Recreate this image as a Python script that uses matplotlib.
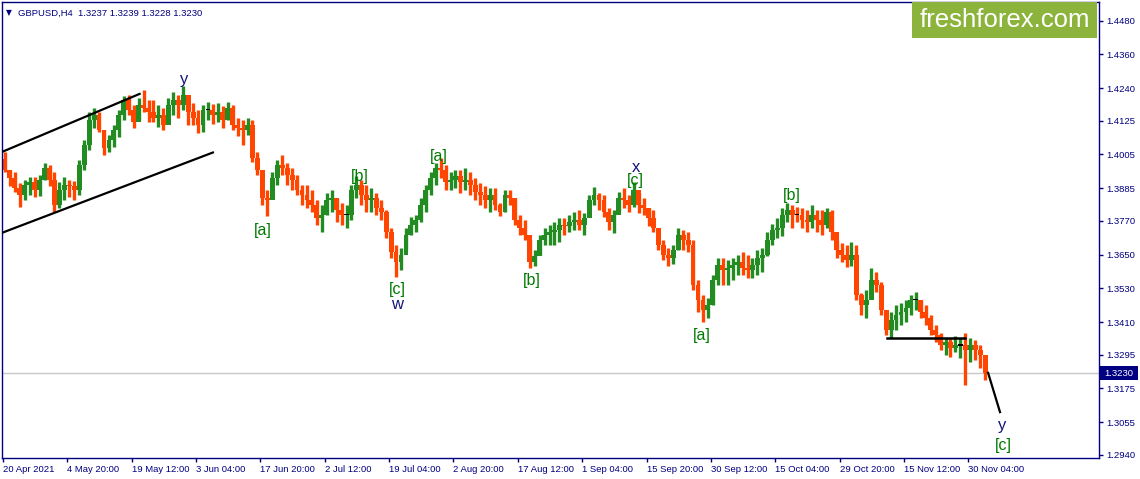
import matplotlib
matplotlib.use("Agg")
import matplotlib.pyplot as plt
from matplotlib.patches import Rectangle

# ---------------- data (GBPUSD H4, grouped 5 bars per candle) ----------------
header_text = "GBPUSD,H4  1.3237 1.3239 1.3228 1.3230"
bars_per_group = 5
first_open = 1.3990

highs = [
    1.4014, 1.3951, 1.3943, 1.3904, 1.3915, 1.3926, 1.3926, 1.3933, 1.3975, 1.3968,
    1.3943, 1.3908, 1.3926, 1.3915, 1.3912, 1.3986, 1.4057, 1.4156, 1.4171, 1.4156,
    1.4093, 1.4075, 1.4110, 1.4164, 1.4213, 1.4217, 1.4181, 1.4206, 1.4234, 1.4199,
    1.4199, 1.4181, 1.4171, 1.4206, 1.4227, 1.4217, 1.4249, 1.4199, 1.4188, 1.4164,
    1.4181, 1.4192, 1.4185, 1.4188, 1.4178, 1.4192, 1.4181, 1.4135, 1.4128, 1.4135,
    1.4128, 1.4014, 1.3943, 1.3880, 1.3943, 1.3986, 1.4004, 1.3975, 1.3958, 1.3933,
    1.3897, 1.3897, 1.3880, 1.3844, 1.3826, 1.3869, 1.3880, 1.3851, 1.3833, 1.3826,
    1.3897, 1.3929, 1.3915, 1.3897, 1.3887, 1.3869, 1.3844, 1.3809, 1.3745, 1.3684,
    1.3674, 1.3745, 1.3784, 1.3791, 1.3851, 1.3897, 1.3943, 1.3975, 1.3993, 1.3968,
    1.3943, 1.3951, 1.3951, 1.3958, 1.3943, 1.3922, 1.3904, 1.3894, 1.3887, 1.3887,
    1.3833, 1.3880, 1.3880, 1.3851, 1.3791, 1.3773, 1.3702, 1.3667, 1.3720, 1.3745,
    1.3755, 1.3766, 1.3780, 1.3780, 1.3791, 1.3801, 1.3809, 1.3798, 1.3862, 1.3890,
    1.3869, 1.3862, 1.3816, 1.3809, 1.3872, 1.3887, 1.3862, 1.3908, 1.3869, 1.3851,
    1.3816, 1.3809, 1.3745, 1.3702, 1.3674, 1.3684, 1.3745, 1.3738, 1.3730, 1.3702,
    1.3560, 1.3507, 1.3496, 1.3578, 1.3638, 1.3638, 1.3631, 1.3638, 1.3649, 1.3659,
    1.3649, 1.3638, 1.3667, 1.3674, 1.3730, 1.3759, 1.3780, 1.3816, 1.3833, 1.3826,
    1.3819, 1.3816, 1.3809, 1.3826, 1.3809, 1.3809, 1.3816, 1.3809, 1.3702, 1.3691,
    1.3684, 1.3695, 1.3684, 1.3514, 1.3525, 1.3603, 1.3588, 1.3553, 1.3436, 1.3446,
    1.3471, 1.3478, 1.3489, 1.3507, 1.3517, 1.3489, 1.3471, 1.3436, 1.3400, 1.3372,
    1.3354, 1.3354, 1.3361, 1.3354, 1.3372, 1.3354, 1.3347, 1.3329, 1.3276,
]
lows = [
    1.3943, 1.3894, 1.3872, 1.3819, 1.3844, 1.3862, 1.3855, 1.3858, 1.3915, 1.3894,
    1.3801, 1.3816, 1.3844, 1.3855, 1.3844, 1.3862, 1.3951, 1.4022, 1.4100, 1.4085,
    1.4004, 1.4014, 1.4032, 1.4068, 1.4128, 1.4146, 1.4100, 1.4128, 1.4156, 1.4121,
    1.4121, 1.4103, 1.4093, 1.4128, 1.4146, 1.4135, 1.4164, 1.4110, 1.4110, 1.4082,
    1.4085, 1.4128, 1.4114, 1.4121, 1.4100, 1.4128, 1.4093, 1.4071, 1.4039, 1.4075,
    1.3979, 1.3933, 1.3826, 1.3787, 1.3851, 1.3897, 1.3933, 1.3897, 1.3880, 1.3862,
    1.3826, 1.3816, 1.3801, 1.3755, 1.3730, 1.3791, 1.3801, 1.3766, 1.3755, 1.3745,
    1.3773, 1.3851, 1.3826, 1.3801, 1.3801, 1.3791, 1.3773, 1.3709, 1.3638, 1.3571,
    1.3596, 1.3667, 1.3720, 1.3730, 1.3766, 1.3801, 1.3862, 1.3897, 1.3922, 1.3880,
    1.3880, 1.3887, 1.3869, 1.3880, 1.3862, 1.3844, 1.3826, 1.3816, 1.3801, 1.3809,
    1.3787, 1.3801, 1.3826, 1.3755, 1.3720, 1.3702, 1.3603, 1.3610, 1.3649, 1.3684,
    1.3684, 1.3684, 1.3695, 1.3720, 1.3730, 1.3738, 1.3738, 1.3720, 1.3791, 1.3826,
    1.3809, 1.3784, 1.3738, 1.3727, 1.3801, 1.3816, 1.3801, 1.3819, 1.3798, 1.3791,
    1.3752, 1.3730, 1.3667, 1.3631, 1.3610, 1.3617, 1.3667, 1.3667, 1.3659, 1.3525,
    1.3446, 1.3411, 1.3425, 1.3471, 1.3542, 1.3542, 1.3542, 1.3560, 1.3578, 1.3578,
    1.3567, 1.3567, 1.3578, 1.3588, 1.3645, 1.3684, 1.3709, 1.3716, 1.3766, 1.3745,
    1.3766, 1.3745, 1.3730, 1.3745, 1.3730, 1.3720, 1.3745, 1.3702, 1.3638, 1.3624,
    1.3606, 1.3610, 1.3489, 1.3436, 1.3425, 1.3525, 1.3517, 1.3436, 1.3365, 1.3354,
    1.3383, 1.3400, 1.3411, 1.3436, 1.3454, 1.3425, 1.3400, 1.3365, 1.3340, 1.3312,
    1.3294, 1.3287, 1.3305, 1.3283, 1.3187, 1.3269, 1.3276, 1.3248, 1.3205,
]
closes = [
    1.3951, 1.3922, 1.3887, 1.3862, 1.3897, 1.3908, 1.3880, 1.3915, 1.3958, 1.3915,
    1.3826, 1.3880, 1.3897, 1.3894, 1.3880, 1.3968, 1.4039, 1.4128, 1.4146, 1.4093,
    1.4029, 1.4057, 1.4093, 1.4146, 1.4199, 1.4164, 1.4121, 1.4181, 1.4171, 1.4156,
    1.4135, 1.4146, 1.4110, 1.4181, 1.4199, 1.4181, 1.4217, 1.4156, 1.4135, 1.4110,
    1.4164, 1.4164, 1.4146, 1.4156, 1.4128, 1.4171, 1.4110, 1.4100, 1.4093, 1.4110,
    1.3993, 1.3951, 1.3851, 1.3844, 1.3922, 1.3968, 1.3958, 1.3933, 1.3915, 1.3880,
    1.3862, 1.3844, 1.3826, 1.3780, 1.3791, 1.3844, 1.3851, 1.3809, 1.3791, 1.3791,
    1.3880, 1.3897, 1.3862, 1.3844, 1.3851, 1.3816, 1.3801, 1.3730, 1.3659, 1.3624,
    1.3649, 1.3720, 1.3755, 1.3773, 1.3826, 1.3880, 1.3922, 1.3958, 1.3951, 1.3908,
    1.3915, 1.3929, 1.3908, 1.3915, 1.3897, 1.3872, 1.3862, 1.3844, 1.3862, 1.3826,
    1.3801, 1.3862, 1.3851, 1.3773, 1.3745, 1.3720, 1.3624, 1.3645, 1.3702, 1.3720,
    1.3730, 1.3738, 1.3755, 1.3752, 1.3766, 1.3773, 1.3755, 1.3780, 1.3844, 1.3862,
    1.3844, 1.3801, 1.3766, 1.3791, 1.3851, 1.3844, 1.3826, 1.3880, 1.3826, 1.3816,
    1.3780, 1.3745, 1.3684, 1.3649, 1.3638, 1.3667, 1.3720, 1.3702, 1.3684, 1.3542,
    1.3489, 1.3454, 1.3471, 1.3560, 1.3613, 1.3596, 1.3603, 1.3613, 1.3624, 1.3603,
    1.3596, 1.3613, 1.3638, 1.3649, 1.3702, 1.3738, 1.3745, 1.3791, 1.3809, 1.3791,
    1.3791, 1.3773, 1.3766, 1.3791, 1.3773, 1.3755, 1.3801, 1.3730, 1.3667, 1.3649,
    1.3631, 1.3649, 1.3507, 1.3471, 1.3489, 1.3560, 1.3542, 1.3454, 1.3383, 1.3418,
    1.3436, 1.3446, 1.3461, 1.3489, 1.3489, 1.3446, 1.3425, 1.3383, 1.3365, 1.3329,
    1.3340, 1.3319, 1.3329, 1.3329, 1.3312, 1.3329, 1.3312, 1.3294, 1.3230,
]

date_labels = ["20 Apr 2021", "4 May 20:00", "19 May 12:00", "3 Jun 04:00",
               "17 Jun 20:00", "2 Jul 12:00", "19 Jul 04:00", "2 Aug 20:00",
               "17 Aug 12:00", "1 Sep 04:00", "15 Sep 20:00", "30 Sep 12:00",
               "15 Oct 04:00", "29 Oct 20:00", "15 Nov 12:00", "30 Nov 04:00"]
bars_between_labels = 65
price_ticks = [1.4480, 1.4360, 1.4240, 1.4125, 1.4005, 1.3885, 1.3770,
               1.3650, 1.3530, 1.3410, 1.3295, 1.3175, 1.3055, 1.2940]
last_price = 1.3230

# Elliott wave labels: (text, bar index, price, kind)
wave_labels = [
    ("y", 183, 1.4270, "blue"),
    ("[a]", 262, 1.3734, "green"),
    ("[b]", 360, 1.3926, "green"),
    ("[c]", 398, 1.3527, "green"),
    ("w", 398, 1.3474, "blue"),
    ("[a]", 440, 1.3997, "green"),
    ("[b]", 534, 1.3557, "green"),
    ("x", 639, 1.3960, "blue"),
    ("[c]", 639, 1.3911, "green"),
    ("[a]", 706, 1.3361, "green"),
    ("[b]", 797, 1.3858, "green"),
    ("y", 1009, 1.3045, "blue"),
    ("[c]", 1010, 1.2971, "green"),
]
channel_upper_x, channel_upper_y = [-1, 138], [1.4014, 1.4220]
channel_lower_x, channel_lower_y = [-1, 212], [1.3727, 1.4012]
neck_x, neck_y = [893, 972], [1.3354, 1.3354]
proj_x, proj_y = [995, 1007], [1.3230, 1.3091]

# ---------------- styling ----------------
W, H, DPI = 1140, 479, 100
UP = "#228B22"
DOWN = "#FF4500"
NAVY = "#000080"
TXT_GREEN = "#007A00"
TXT_BLUE = "#141478"
FONT = "Liberation Sans"

plt.rcParams["font.family"] = [FONT, "DejaVu Sans"]

fig = plt.figure(figsize=(W / DPI, H / DPI), dpi=DPI)
ax = fig.add_axes([2 / W, (H - 458) / H, (1099 - 2) / W, (458 - 2) / H])
ax.set_xlim(-1, 1107)
ax.set_ylim(1.2928, 1.4546)

# current price line
ax.axhline(last_price, color="#C8C8C8", lw=1, zorder=1)

# candles
opens = [first_open] + closes[:-1]
n = len(closes)
xs = [g * bars_per_group + (bars_per_group - 1) / 2 for g in range(n)]
for x, o, h, l, c in zip(xs, opens, highs, lows, closes):
    if c > o:
        col = wick = UP
    elif c < o:
        col = wick = DOWN
    else:
        col = "black"
        wick = DOWN if c < (h + l) / 2 else UP
    ax.vlines(x, l, h, color=wick, lw=2.4, zorder=2)
    bot, top = min(o, c), max(o, c)
    if top - bot < 0.00015:
        bot, top = bot - 0.0002, top + 0.0002
    ax.add_patch(Rectangle((x - bars_per_group / 2 + 0.05, bot),
                           bars_per_group - 0.1, top - bot,
                           facecolor=col, edgecolor="none", zorder=2))

# lines
ax.plot(channel_upper_x, channel_upper_y, color="black", lw=1.6, zorder=3)
ax.plot(channel_lower_x, channel_lower_y, color="black", lw=1.6, zorder=3)
ax.plot(neck_x, neck_y, color="black", lw=1.8, zorder=3)
ax.plot(proj_x, proj_y, color="black", lw=1.6, zorder=3)

# wave labels
for txt, bx, py, kind in wave_labels:
    ax.text(bx, py, txt, ha="center", va="center",
            color=TXT_GREEN if kind == "green" else TXT_BLUE,
            fontsize=11.5 if kind == "green" else 12, zorder=4)

# axes styling
for s in ax.spines.values():
    s.set_color(NAVY)
    s.set_linewidth(1.0)
ax.yaxis.tick_right()
ax.set_yticks(price_ticks)
ax.set_yticklabels([f"{v:.4f}" for v in price_ticks])
ax.set_xticks([i * bars_between_labels for i in range(len(date_labels))])
ax.set_xticklabels(date_labels)
ax.tick_params(axis="both", colors=NAVY, labelcolor=NAVY, labelsize=6.8,
               length=3, width=1, direction="out")
ax.tick_params(axis="y", pad=2)
ax.tick_params(axis="x", pad=2)
for lab in ax.get_xticklabels():
    lab.set_horizontalalignment("left")

# price label on axis
fig.patches.append(Rectangle((1100 / W, (H - 380) / H), 38 / W, 14 / H,
                             transform=fig.transFigure, facecolor=NAVY,
                             edgecolor="none", zorder=5))
fig.text(1119 / W, (H - 373) / H, f"{last_price:.4f}", color="white",
         fontsize=6.8, ha="center", va="center", zorder=6)

# header
fig.text(6 / W, (H - 13) / H, "\u25BC", color=NAVY, fontsize=5.5,
         ha="left", va="center", family="DejaVu Sans")
fig.text(18 / W, (H - 13) / H, header_text, color=NAVY, fontsize=6.8,
         ha="left", va="center")

# logo
fig.patches.append(Rectangle((912 / W, (H - 38) / H), 185 / W, 36 / H,
                             transform=fig.transFigure, facecolor="#8CB43C",
                             edgecolor="none", zorder=5))
fig.text(1005 / W, (H - 20) / H, "freshforex.com", color="white",
         fontsize=18.5, ha="center", va="center", zorder=6)

fig.savefig("out.png", dpi=DPI, facecolor="white")
